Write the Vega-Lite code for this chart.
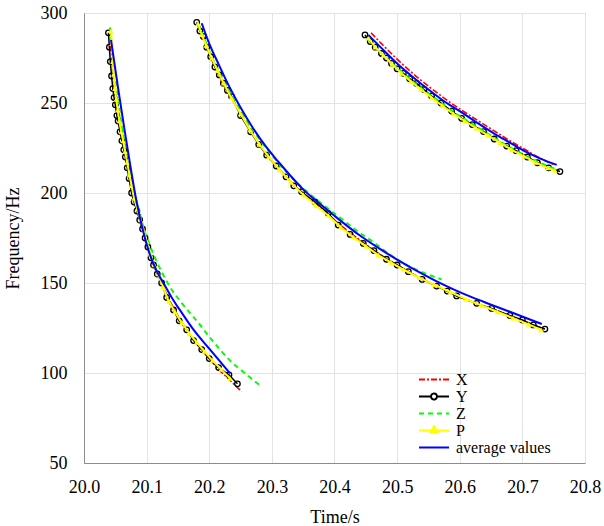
{
  "$schema": "https://vega.github.io/schema/vega-lite/v6.json",
  "width": 501,
  "height": 450,
  "autosize": {"type": "none"},
  "padding": {"left": 84, "top": 13, "right": 19, "bottom": 63},
  "background": "white",
  "config": {
    "font": "Liberation Serif",
    "view": {"stroke": "#8c8c8c", "strokeWidth": 1},
    "axis": {
      "labelFont": "Liberation Serif",
      "labelFontSize": 18,
      "labelColor": "#000000",
      "titleFont": "Liberation Serif",
      "titleFontSize": 18,
      "titleFontWeight": "normal",
      "titleColor": "#000000",
      "domainColor": "#8c8c8c",
      "gridColor": "#e3e3e3",
      "gridWidth": 1,
      "ticks": false
    }
  },
  "data": {"values": [
    {"s":"X","c":1,"t":20.0425,"f":282},{"s":"X","c":1,"t":20.0460,"f":270},{"s":"X","c":1,"t":20.0500,"f":256},{"s":"X","c":1,"t":20.0550,"f":243},{"s":"X","c":1,"t":20.0600,"f":232},{"s":"X","c":1,"t":20.0680,"f":218},{"s":"X","c":1,"t":20.0760,"f":203},{"s":"X","c":1,"t":20.0850,"f":191},{"s":"X","c":1,"t":20.0950,"f":178},{"s":"X","c":1,"t":20.1050,"f":167},{"s":"X","c":1,"t":20.1150,"f":157},{"s":"X","c":1,"t":20.1250,"f":149},{"s":"X","c":1,"t":20.1400,"f":138},{"s":"X","c":1,"t":20.1550,"f":129},{"s":"X","c":1,"t":20.1700,"f":121},{"s":"X","c":1,"t":20.1850,"f":114},{"s":"X","c":1,"t":20.2000,"f":108},{"s":"X","c":1,"t":20.2150,"f":102},{"s":"X","c":1,"t":20.2300,"f":97},{"s":"X","c":1,"t":20.2518,"f":89.6},
    {"s":"X","c":2,"t":20.1830,"f":294},{"s":"X","c":2,"t":20.2000,"f":278},{"s":"X","c":2,"t":20.2200,"f":262},{"s":"X","c":2,"t":20.2400,"f":250},{"s":"X","c":2,"t":20.2600,"f":238},{"s":"X","c":2,"t":20.2800,"f":227},{"s":"X","c":2,"t":20.3000,"f":218},{"s":"X","c":2,"t":20.3250,"f":208},{"s":"X","c":2,"t":20.3500,"f":199.5},{"s":"X","c":2,"t":20.3800,"f":191},{"s":"X","c":2,"t":20.4100,"f":182},{"s":"X","c":2,"t":20.4400,"f":174},{"s":"X","c":2,"t":20.4700,"f":166.5},{"s":"X","c":2,"t":20.5000,"f":160},{"s":"X","c":2,"t":20.5300,"f":154},{"s":"X","c":2,"t":20.5600,"f":149},{"s":"X","c":2,"t":20.5900,"f":144},{"s":"X","c":2,"t":20.6200,"f":139.5},{"s":"X","c":2,"t":20.6500,"f":135.5},{"s":"X","c":2,"t":20.6800,"f":131.5},{"s":"X","c":2,"t":20.7100,"f":127.5},{"s":"X","c":2,"t":20.7350,"f":124.5},
    {"s":"X","c":3,"t":20.4583,"f":289},{"s":"X","c":3,"t":20.4750,"f":283},{"s":"X","c":3,"t":20.4950,"f":276},{"s":"X","c":3,"t":20.5150,"f":269.5},{"s":"X","c":3,"t":20.5350,"f":263.5},{"s":"X","c":3,"t":20.5550,"f":258},{"s":"X","c":3,"t":20.5800,"f":251.5},{"s":"X","c":3,"t":20.6030,"f":246},{"s":"X","c":3,"t":20.6300,"f":240},{"s":"X","c":3,"t":20.6550,"f":234.5},{"s":"X","c":3,"t":20.6800,"f":229},{"s":"X","c":3,"t":20.7050,"f":224},{"s":"X","c":3,"t":20.7300,"f":219},{"s":"X","c":3,"t":20.7520,"f":215.5},

    {"s":"Y","c":1,"t":20.0390,"f":289},{"s":"Y","c":1,"t":20.0405,"f":281},{"s":"Y","c":1,"t":20.0420,"f":273},{"s":"Y","c":1,"t":20.0440,"f":265},{"s":"Y","c":1,"t":20.0460,"f":258},{"s":"Y","c":1,"t":20.0480,"f":253},{"s":"Y","c":1,"t":20.0500,"f":249},{"s":"Y","c":1,"t":20.0525,"f":243},{"s":"Y","c":1,"t":20.0545,"f":240},{"s":"Y","c":1,"t":20.0575,"f":234},{"s":"Y","c":1,"t":20.0605,"f":229},{"s":"Y","c":1,"t":20.0635,"f":224},{"s":"Y","c":1,"t":20.0660,"f":220},{"s":"Y","c":1,"t":20.0690,"f":214},{"s":"Y","c":1,"t":20.0720,"f":208},{"s":"Y","c":1,"t":20.0760,"f":200},{"s":"Y","c":1,"t":20.0800,"f":195},{"s":"Y","c":1,"t":20.0845,"f":190},{"s":"Y","c":1,"t":20.0890,"f":185},{"s":"Y","c":1,"t":20.0935,"f":180},{"s":"Y","c":1,"t":20.0975,"f":175},{"s":"Y","c":1,"t":20.1020,"f":170},{"s":"Y","c":1,"t":20.1070,"f":164},{"s":"Y","c":1,"t":20.1110,"f":160},{"s":"Y","c":1,"t":20.1170,"f":155},{"s":"Y","c":1,"t":20.1240,"f":150},{"s":"Y","c":1,"t":20.1320,"f":142},{"s":"Y","c":1,"t":20.1430,"f":135},{"s":"Y","c":1,"t":20.1520,"f":129},{"s":"Y","c":1,"t":20.1640,"f":124},{"s":"Y","c":1,"t":20.1750,"f":118},{"s":"Y","c":1,"t":20.1880,"f":113},{"s":"Y","c":1,"t":20.2000,"f":108},{"s":"Y","c":1,"t":20.2150,"f":103},{"s":"Y","c":1,"t":20.2315,"f":99},{"s":"Y","c":1,"t":20.2450,"f":94},
    {"s":"Y","c":2,"t":20.1800,"f":294.8},{"s":"Y","c":2,"t":20.1850,"f":290},{"s":"Y","c":2,"t":20.1905,"f":287},{"s":"Y","c":2,"t":20.1960,"f":281},{"s":"Y","c":2,"t":20.2023,"f":275.7},{"s":"Y","c":2,"t":20.2090,"f":270},{"s":"Y","c":2,"t":20.2160,"f":265.6},{"s":"Y","c":2,"t":20.2225,"f":261},{"s":"Y","c":2,"t":20.2290,"f":257},{"s":"Y","c":2,"t":20.2358,"f":253.5},{"s":"Y","c":2,"t":20.2500,"f":243},{"s":"Y","c":2,"t":20.2661,"f":234},{"s":"Y","c":2,"t":20.2790,"f":227},{"s":"Y","c":2,"t":20.2917,"f":221},{"s":"Y","c":2,"t":20.3070,"f":215},{"s":"Y","c":2,"t":20.3226,"f":209},{"s":"Y","c":2,"t":20.3350,"f":204},{"s":"Y","c":2,"t":20.3475,"f":200.7},{"s":"Y","c":2,"t":20.3689,"f":195},{"s":"Y","c":2,"t":20.3900,"f":188.7},{"s":"Y","c":2,"t":20.4060,"f":182.2},{"s":"Y","c":2,"t":20.4250,"f":177},{"s":"Y","c":2,"t":20.4460,"f":172},{"s":"Y","c":2,"t":20.4630,"f":168},{"s":"Y","c":2,"t":20.4830,"f":163.2},{"s":"Y","c":2,"t":20.5000,"f":160},{"s":"Y","c":2,"t":20.5180,"f":156.3},{"s":"Y","c":2,"t":20.5400,"f":152},{"s":"Y","c":2,"t":20.5630,"f":148.3},{"s":"Y","c":2,"t":20.5800,"f":145.5},{"s":"Y","c":2,"t":20.5950,"f":142.8},{"s":"Y","c":2,"t":20.6270,"f":138.7},{"s":"Y","c":2,"t":20.6510,"f":135.9},{"s":"Y","c":2,"t":20.6800,"f":132},{"s":"Y","c":2,"t":20.7000,"f":129.5},{"s":"Y","c":2,"t":20.7175,"f":126.7},{"s":"Y","c":2,"t":20.7360,"f":124.4},
    {"s":"Y","c":3,"t":20.4487,"f":287.8},{"s":"Y","c":3,"t":20.4570,"f":284.1},{"s":"Y","c":3,"t":20.4650,"f":281},{"s":"Y","c":3,"t":20.4750,"f":277.5},{"s":"Y","c":3,"t":20.4830,"f":275},{"s":"Y","c":3,"t":20.4910,"f":272},{"s":"Y","c":3,"t":20.5000,"f":269},{"s":"Y","c":3,"t":20.5100,"f":266.5},{"s":"Y","c":3,"t":20.5200,"f":263.5},{"s":"Y","c":3,"t":20.5310,"f":260.9},{"s":"Y","c":3,"t":20.5430,"f":257.5},{"s":"Y","c":3,"t":20.5550,"f":253.9},{"s":"Y","c":3,"t":20.5700,"f":250},{"s":"Y","c":3,"t":20.5870,"f":245.5},{"s":"Y","c":3,"t":20.6030,"f":241.5},{"s":"Y","c":3,"t":20.6200,"f":238},{"s":"Y","c":3,"t":20.6380,"f":234.1},{"s":"Y","c":3,"t":20.6550,"f":230},{"s":"Y","c":3,"t":20.6750,"f":226.1},{"s":"Y","c":3,"t":20.6900,"f":223.5},{"s":"Y","c":3,"t":20.7080,"f":220},{"s":"Y","c":3,"t":20.7240,"f":216.8},{"s":"Y","c":3,"t":20.7420,"f":214},{"s":"Y","c":3,"t":20.7600,"f":211.9},

    {"s":"Z","c":1,"t":20.0415,"f":292},{"s":"Z","c":1,"t":20.0450,"f":280},{"s":"Z","c":1,"t":20.0500,"f":264},{"s":"Z","c":1,"t":20.0550,"f":250},{"s":"Z","c":1,"t":20.0600,"f":238},{"s":"Z","c":1,"t":20.0680,"f":222},{"s":"Z","c":1,"t":20.0760,"f":207},{"s":"Z","c":1,"t":20.0850,"f":194},{"s":"Z","c":1,"t":20.0950,"f":181},{"s":"Z","c":1,"t":20.1050,"f":171},{"s":"Z","c":1,"t":20.1160,"f":162},{"s":"Z","c":1,"t":20.1370,"f":148},{"s":"Z","c":1,"t":20.1580,"f":138},{"s":"Z","c":1,"t":20.1800,"f":129},{"s":"Z","c":1,"t":20.2050,"f":118},{"s":"Z","c":1,"t":20.2330,"f":107},{"s":"Z","c":1,"t":20.2600,"f":99},{"s":"Z","c":1,"t":20.2837,"f":92.4},
    {"s":"Z","c":2,"t":20.1830,"f":294},{"s":"Z","c":2,"t":20.2000,"f":279},{"s":"Z","c":2,"t":20.2200,"f":264},{"s":"Z","c":2,"t":20.2400,"f":252},{"s":"Z","c":2,"t":20.2600,"f":240},{"s":"Z","c":2,"t":20.2800,"f":230},{"s":"Z","c":2,"t":20.3000,"f":221},{"s":"Z","c":2,"t":20.3250,"f":211},{"s":"Z","c":2,"t":20.3500,"f":202.5},{"s":"Z","c":2,"t":20.3800,"f":194},{"s":"Z","c":2,"t":20.4100,"f":186},{"s":"Z","c":2,"t":20.4400,"f":178},{"s":"Z","c":2,"t":20.4650,"f":172},{"s":"Z","c":2,"t":20.4890,"f":165.6},{"s":"Z","c":2,"t":20.5100,"f":161},{"s":"Z","c":2,"t":20.5400,"f":156},{"s":"Z","c":2,"t":20.5710,"f":152},
    {"s":"Z","c":3,"t":20.4520,"f":286},{"s":"Z","c":3,"t":20.4700,"f":279.4},{"s":"Z","c":3,"t":20.4900,"f":272.5},{"s":"Z","c":3,"t":20.5070,"f":267.4},{"s":"Z","c":3,"t":20.5250,"f":262},{"s":"Z","c":3,"t":20.5450,"f":256.5},{"s":"Z","c":3,"t":20.5650,"f":251.5},{"s":"Z","c":3,"t":20.5900,"f":245},{"s":"Z","c":3,"t":20.6150,"f":239.5},{"s":"Z","c":3,"t":20.6400,"f":234},{"s":"Z","c":3,"t":20.6650,"f":228.5},{"s":"Z","c":3,"t":20.6900,"f":223.5},{"s":"Z","c":3,"t":20.7150,"f":219},{"s":"Z","c":3,"t":20.7400,"f":215},{"s":"Z","c":3,"t":20.7550,"f":213},

    {"s":"P","c":1,"t":20.0430,"f":290},{"s":"P","c":1,"t":20.0445,"f":283},{"s":"P","c":1,"t":20.0460,"f":273},{"s":"P","c":1,"t":20.0475,"f":266},{"s":"P","c":1,"t":20.0495,"f":258},{"s":"P","c":1,"t":20.0515,"f":252},{"s":"P","c":1,"t":20.0540,"f":246},{"s":"P","c":1,"t":20.0565,"f":240},{"s":"P","c":1,"t":20.0595,"f":234},{"s":"P","c":1,"t":20.0625,"f":229},{"s":"P","c":1,"t":20.0655,"f":223},{"s":"P","c":1,"t":20.0690,"f":217},{"s":"P","c":1,"t":20.0725,"f":210},{"s":"P","c":1,"t":20.0760,"f":204},{"s":"P","c":1,"t":20.0800,"f":197},{"s":"P","c":1,"t":20.0850,"f":191},{"s":"P","c":1,"t":20.0900,"f":185},{"s":"P","c":1,"t":20.0950,"f":179},{"s":"P","c":1,"t":20.1000,"f":173},{"s":"P","c":1,"t":20.1060,"f":166},{"s":"P","c":1,"t":20.1120,"f":160},{"s":"P","c":1,"t":20.1180,"f":155},{"s":"P","c":1,"t":20.1260,"f":148},{"s":"P","c":1,"t":20.1350,"f":140},{"s":"P","c":1,"t":20.1450,"f":134},{"s":"P","c":1,"t":20.1560,"f":128},{"s":"P","c":1,"t":20.1680,"f":122},{"s":"P","c":1,"t":20.1800,"f":117},{"s":"P","c":1,"t":20.1920,"f":112},{"s":"P","c":1,"t":20.2050,"f":107},{"s":"P","c":1,"t":20.2190,"f":102},{"s":"P","c":1,"t":20.2330,"f":97},
    {"s":"P","c":2,"t":20.1820,"f":294},{"s":"P","c":2,"t":20.1880,"f":288},{"s":"P","c":2,"t":20.1950,"f":282},{"s":"P","c":2,"t":20.2040,"f":275},{"s":"P","c":2,"t":20.2130,"f":268},{"s":"P","c":2,"t":20.2230,"f":261},{"s":"P","c":2,"t":20.2350,"f":253},{"s":"P","c":2,"t":20.2500,"f":244},{"s":"P","c":2,"t":20.2650,"f":235},{"s":"P","c":2,"t":20.2800,"f":227},{"s":"P","c":2,"t":20.2950,"f":220},{"s":"P","c":2,"t":20.3120,"f":213},{"s":"P","c":2,"t":20.3300,"f":206},{"s":"P","c":2,"t":20.3500,"f":199},{"s":"P","c":2,"t":20.3700,"f":193},{"s":"P","c":2,"t":20.3900,"f":187.5},{"s":"P","c":2,"t":20.4100,"f":181},{"s":"P","c":2,"t":20.4300,"f":175.5},{"s":"P","c":2,"t":20.4500,"f":170.5},{"s":"P","c":2,"t":20.4700,"f":165.5},{"s":"P","c":2,"t":20.4900,"f":161.5},{"s":"P","c":2,"t":20.5100,"f":157.5},{"s":"P","c":2,"t":20.5350,"f":153},{"s":"P","c":2,"t":20.5600,"f":149},{"s":"P","c":2,"t":20.5850,"f":145},{"s":"P","c":2,"t":20.6100,"f":141},{"s":"P","c":2,"t":20.6350,"f":137.5},{"s":"P","c":2,"t":20.6600,"f":134},{"s":"P","c":2,"t":20.6850,"f":130.5},{"s":"P","c":2,"t":20.7100,"f":127},{"s":"P","c":2,"t":20.7300,"f":124},
    {"s":"P","c":3,"t":20.4540,"f":286},{"s":"P","c":3,"t":20.4650,"f":281},{"s":"P","c":3,"t":20.4780,"f":276.5},{"s":"P","c":3,"t":20.4920,"f":271.5},{"s":"P","c":3,"t":20.5070,"f":266.5},{"s":"P","c":3,"t":20.5220,"f":262},{"s":"P","c":3,"t":20.5380,"f":257.5},{"s":"P","c":3,"t":20.5550,"f":253},{"s":"P","c":3,"t":20.5720,"f":248.5},{"s":"P","c":3,"t":20.5900,"f":244},{"s":"P","c":3,"t":20.6080,"f":240},{"s":"P","c":3,"t":20.6260,"f":236},{"s":"P","c":3,"t":20.6450,"f":232},{"s":"P","c":3,"t":20.6640,"f":228},{"s":"P","c":3,"t":20.6830,"f":224},{"s":"P","c":3,"t":20.7020,"f":220.5},{"s":"P","c":3,"t":20.7210,"f":217},{"s":"P","c":3,"t":20.7400,"f":214},{"s":"P","c":3,"t":20.7520,"f":212.5},

    {"s":"average values","c":1,"t":20.0431,"f":285},{"s":"average values","c":1,"t":20.0550,"f":257},{"s":"average values","c":1,"t":20.0650,"f":234.5},{"s":"average values","c":1,"t":20.0750,"f":213},{"s":"average values","c":1,"t":20.0840,"f":195},{"s":"average values","c":1,"t":20.0950,"f":178},{"s":"average values","c":1,"t":20.1050,"f":166},{"s":"average values","c":1,"t":20.1150,"f":157.5},{"s":"average values","c":1,"t":20.1270,"f":149.8},{"s":"average values","c":1,"t":20.1400,"f":142},{"s":"average values","c":1,"t":20.1550,"f":134},{"s":"average values","c":1,"t":20.1745,"f":124.2},{"s":"average values","c":1,"t":20.2000,"f":113.5},{"s":"average values","c":1,"t":20.2331,"f":99.8},
    {"s":"average values","c":2,"t":20.1880,"f":294.3},{"s":"average values","c":2,"t":20.2000,"f":283},{"s":"average values","c":2,"t":20.2150,"f":271.5},{"s":"average values","c":2,"t":20.2300,"f":260.5},{"s":"average values","c":2,"t":20.2500,"f":247.5},{"s":"average values","c":2,"t":20.2700,"f":236},{"s":"average values","c":2,"t":20.2900,"f":226},{"s":"average values","c":2,"t":20.3100,"f":217.5},{"s":"average values","c":2,"t":20.3300,"f":209.5},{"s":"average values","c":2,"t":20.3500,"f":202},{"s":"average values","c":2,"t":20.3800,"f":193},{"s":"average values","c":2,"t":20.4100,"f":184.5},{"s":"average values","c":2,"t":20.4400,"f":176.5},{"s":"average values","c":2,"t":20.4700,"f":169.5},{"s":"average values","c":2,"t":20.5000,"f":163},{"s":"average values","c":2,"t":20.5300,"f":157},{"s":"average values","c":2,"t":20.5600,"f":151.5},{"s":"average values","c":2,"t":20.5900,"f":146.5},{"s":"average values","c":2,"t":20.6200,"f":142},{"s":"average values","c":2,"t":20.6500,"f":138},{"s":"average values","c":2,"t":20.6800,"f":134},{"s":"average values","c":2,"t":20.7100,"f":130},{"s":"average values","c":2,"t":20.7310,"f":127.2},
    {"s":"average values","c":3,"t":20.4540,"f":287.8},{"s":"average values","c":3,"t":20.4750,"f":280.5},{"s":"average values","c":3,"t":20.5000,"f":272},{"s":"average values","c":3,"t":20.5250,"f":264.5},{"s":"average values","c":3,"t":20.5500,"f":257.5},{"s":"average values","c":3,"t":20.5750,"f":251},{"s":"average values","c":3,"t":20.6030,"f":244.8},{"s":"average values","c":3,"t":20.6300,"f":238.5},{"s":"average values","c":3,"t":20.6550,"f":233},{"s":"average values","c":3,"t":20.6800,"f":228},{"s":"average values","c":3,"t":20.7050,"f":223},{"s":"average values","c":3,"t":20.7300,"f":219},{"s":"average values","c":3,"t":20.7548,"f":215.6}
  ]},
  "encoding": {
    "x": {"field": "t", "type": "quantitative",
      "scale": {"domain": [20.0, 20.8], "nice": false, "zero": false},
      "axis": {"title": "Time/s", "values": [20.0,20.1,20.2,20.3,20.4,20.5,20.6,20.7,20.8], "format": ".1f", "labelPadding": 15, "titlePadding": 12, "grid": true, "labelFlush": false,
        "labelFont": "Liberation Serif", "labelFontSize": 18, "titleFont": "Liberation Serif", "titleFontSize": 18}},
    "y": {"field": "f", "type": "quantitative",
      "scale": {"domain": [50, 300], "nice": false, "zero": false},
      "axis": {"title": "Frequency/Hz", "values": [50,100,150,200,250,300], "labelPadding": 17, "titlePadding": 18, "grid": true,
        "labelFont": "Liberation Serif", "labelFontSize": 18, "titleFont": "Liberation Serif", "titleFontSize": 18}}
  },
  "layer": [
    {"transform": [{"filter": {"field": "s", "equal": "X"}}],
     "mark": {"type": "line", "strokeWidth": 1.6, "strokeDash": [6, 2, 2, 2], "interpolate": "monotone"},
     "encoding": {"detail": {"field": "c"}, "color": {"field": "s", "type": "nominal"}}},
    {"transform": [{"filter": {"field": "s", "equal": "Y"}}],
     "mark": {"type": "line", "strokeWidth": 1.5},
     "encoding": {"detail": {"field": "c"}, "color": {"field": "s", "type": "nominal"}}},
    {"transform": [{"filter": {"field": "s", "equal": "Y"}}],
     "mark": {"type": "point", "shape": "circle", "filled": false, "color": "#000000", "size": 30, "strokeWidth": 1.3, "opacity": 1}},
    {"transform": [{"filter": {"field": "s", "equal": "Z"}}],
     "mark": {"type": "line", "strokeWidth": 2, "strokeDash": [5, 4], "interpolate": "monotone"},
     "encoding": {"detail": {"field": "c"}, "color": {"field": "s", "type": "nominal"}}},
    {"transform": [{"filter": {"field": "s", "equal": "P"}}],
     "mark": {"type": "line", "strokeWidth": 2},
     "encoding": {"detail": {"field": "c"}, "color": {"field": "s", "type": "nominal"}}},
    {"transform": [{"filter": {"field": "s", "equal": "P"}}],
     "mark": {"type": "point", "shape": "triangle-up", "filled": true, "color": "#FFFF00", "size": 30, "opacity": 1}},
    {"transform": [{"filter": {"field": "s", "equal": "average values"}}],
     "mark": {"type": "line", "strokeWidth": 2, "interpolate": "monotone"},
     "encoding": {"detail": {"field": "c"},
       "color": {"field": "s", "type": "nominal",
         "scale": {"domain": ["X", "Y", "Z", "P", "average values"], "range": ["#FF0000", "#000000", "#00FF00", "#FFFF00", "#0000FF"]},
         "legend": {
           "title": null, "orient": "none", "legendX": 334, "legendY": 358,
           "labelFont": "Liberation Serif", "labelFontSize": 16, "labelColor": "#000000",
           "symbolSize": 225, "symbolStrokeWidth": 2, "rowPadding": -2, "labelOffset": 21,
           "padding": 0,
           "encode": {"symbols": {"update": {
             "shape": {"signal": "datum.value === 'Y' ? 'M-1,0H0.6M1.4,0H3M1.4,0A0.4,0.4,0,1,1,0.6,0A0.4,0.4,0,1,1,1.4,0' : datum.value === 'P' ? 'M-1,0H3M1,-0.55L1.47,0.27L0.53,0.27Z' : 'M-1,0H3'"},
             "fill": {"signal": "datum.value === 'P' ? '#FFFF00' : 'transparent'"},
             "strokeDash": {"signal": "datum.value === 'X' ? [6,2,2,2] : datum.value === 'Z' ? [5,4] : [1,0]"},
             "strokeWidth": {"value": 2},
             "opacity": {"value": 1}
           }}}
         }}}}
  ]
}
